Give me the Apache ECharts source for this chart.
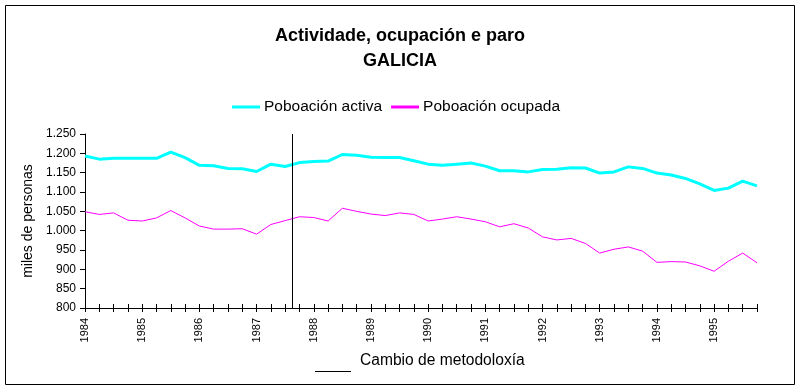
<!DOCTYPE html>
<html>
<head>
<meta charset="utf-8">
<script src="https://cdn.jsdelivr.net/npm/echarts@6/dist/echarts.min.js"></script>
<style>html,body{margin:0;padding:0;background:#fff;}#c{width:800px;height:389px;}</style>
</head>
<body>
<div id="c"></div>
<script>
var years = ['1984','1985','1986','1987','1988','1989','1990','1991','1992','1993','1994','1995'];
var quartersPerYear = 4;
var active = [1193,1185,1187,1187,1187,1187,1203,1189,1169,1168,1161,1160,1153,1172,1166,1176,1179,1180,1197,1195,1190,1189,1189,1181,1172,1169,1172,1175,1167,1155,1155,1152,1158,1159,1163,1162,1149,1152,1165,1161,1149,1144,1135,1121,1104,1110,1128,1116];
var occupied = [1049,1042,1046,1027,1025,1033,1052,1033,1012,1004,1004,1005,991,1016,1026,1036,1034,1025,1058,1050,1043,1039,1046,1042,1025,1030,1036,1030,1023,1010,1018,1007,984,976,980,967,942,952,958,947,918,920,919,909,895,921,942,917];
var methodChangeIndex = 14.5;
var yTicks = {min: 800, max: 1250, step: 50};

var FONT = '"Liberation Sans", Arial, sans-serif';
function pairs(arr){ return arr.map(function(v,i){ return [i,v]; }); }
function fmtThousands(v){ var s = String(v); return s.length > 3 ? s.slice(0, s.length-3) + '.' + s.slice(-3) : s; }
var nPts = active.length;

var chart = echarts.init(document.getElementById('c'), null, {renderer:'canvas'});
var xCommon = { type:'value', min:0, max:nPts-1, interval:1, splitLine:{show:false} };
chart.setOption({
  animation:false,
  backgroundColor:'#ffffff',
  title:{
    text:'Actividade, ocupación e paro\nGALICIA',
    left:'center', top:19,
    textStyle:{fontFamily:FONT, fontSize:18, fontWeight:'bold', color:'#000', lineHeight:25}
  },
  legend:{
    left:227, top:94, itemWidth:28, itemHeight:3, itemGap:9,
    textStyle:{fontFamily:FONT, fontSize:15.5, color:'#000', padding:[0,0,0,-1]},
    data:[
      {name:'Poboación activa', icon:'rect', itemStyle:{color:'#00ffff'}},
      {name:'Poboación ocupada', icon:'rect', itemStyle:{color:'#ff00ff'}}
    ]
  },
  grid:{left:85, right:43, top:134, bottom:81},
  xAxis:[
    Object.assign({}, xCommon, {
      axisLine:{show:true, lineStyle:{color:'#000', width:1}},
      axisTick:{show:true, length:4, lineStyle:{color:'#000'}},
      axisLabel:{rotate:90, margin:10, fontFamily:FONT, fontSize:11, color:'#000',
        formatter:function(v){ return (v % quartersPerYear === 0) ? years[v/quartersPerYear] : ''; }}
    }),
    Object.assign({}, xCommon, {
      position:'bottom',
      axisLine:{show:false},
      axisTick:{show:true, inside:true, length:4, lineStyle:{color:'#000'}},
      axisLabel:{show:false}
    })
  ],
  yAxis:{
    type:'value', min:yTicks.min, max:yTicks.max, interval:yTicks.step,
    name:'miles de personas', nameLocation:'middle', nameGap:50, nameRotate:90,
    nameTextStyle:{fontFamily:FONT, fontSize:14, color:'#000'},
    axisLine:{show:true, lineStyle:{color:'#000'}},
    axisTick:{show:true, length:5, lineStyle:{color:'#000'}},
    splitLine:{show:false},
    axisLabel:{fontFamily:FONT, fontSize:12, color:'#000', margin:9, formatter:fmtThousands}
  },
  series:[
    {name:'Poboación activa', type:'line', data:pairs(active), symbol:'none',
      lineStyle:{color:'#00ffff', width:3}, itemStyle:{color:'#00ffff'},
      markLine:{silent:true, symbol:'none', label:{show:false},
        lineStyle:{color:'#000', width:1, type:'solid'},
        data:[{xAxis:methodChangeIndex}]}},
    {name:'Poboación ocupada', type:'line', data:pairs(occupied), symbol:'none',
      lineStyle:{color:'#ff00ff', width:1}, itemStyle:{color:'#ff00ff'}}
  ],
  graphic:[
    {type:'rect', shape:{x:5.5, y:5.5, width:789, height:379}, style:{fill:null, stroke:'#000', lineWidth:1}, silent:true},
    {type:'line', shape:{x1:315, y1:371.5, x2:351, y2:371.5}, style:{stroke:'#000', lineWidth:1}, silent:true},
    {type:'text', left:360, top:353, style:{text:'Cambio de metodoloxía', font:'15.6px ' + FONT, fill:'#000'}}
  ]
});
</script>
</body>
</html>
